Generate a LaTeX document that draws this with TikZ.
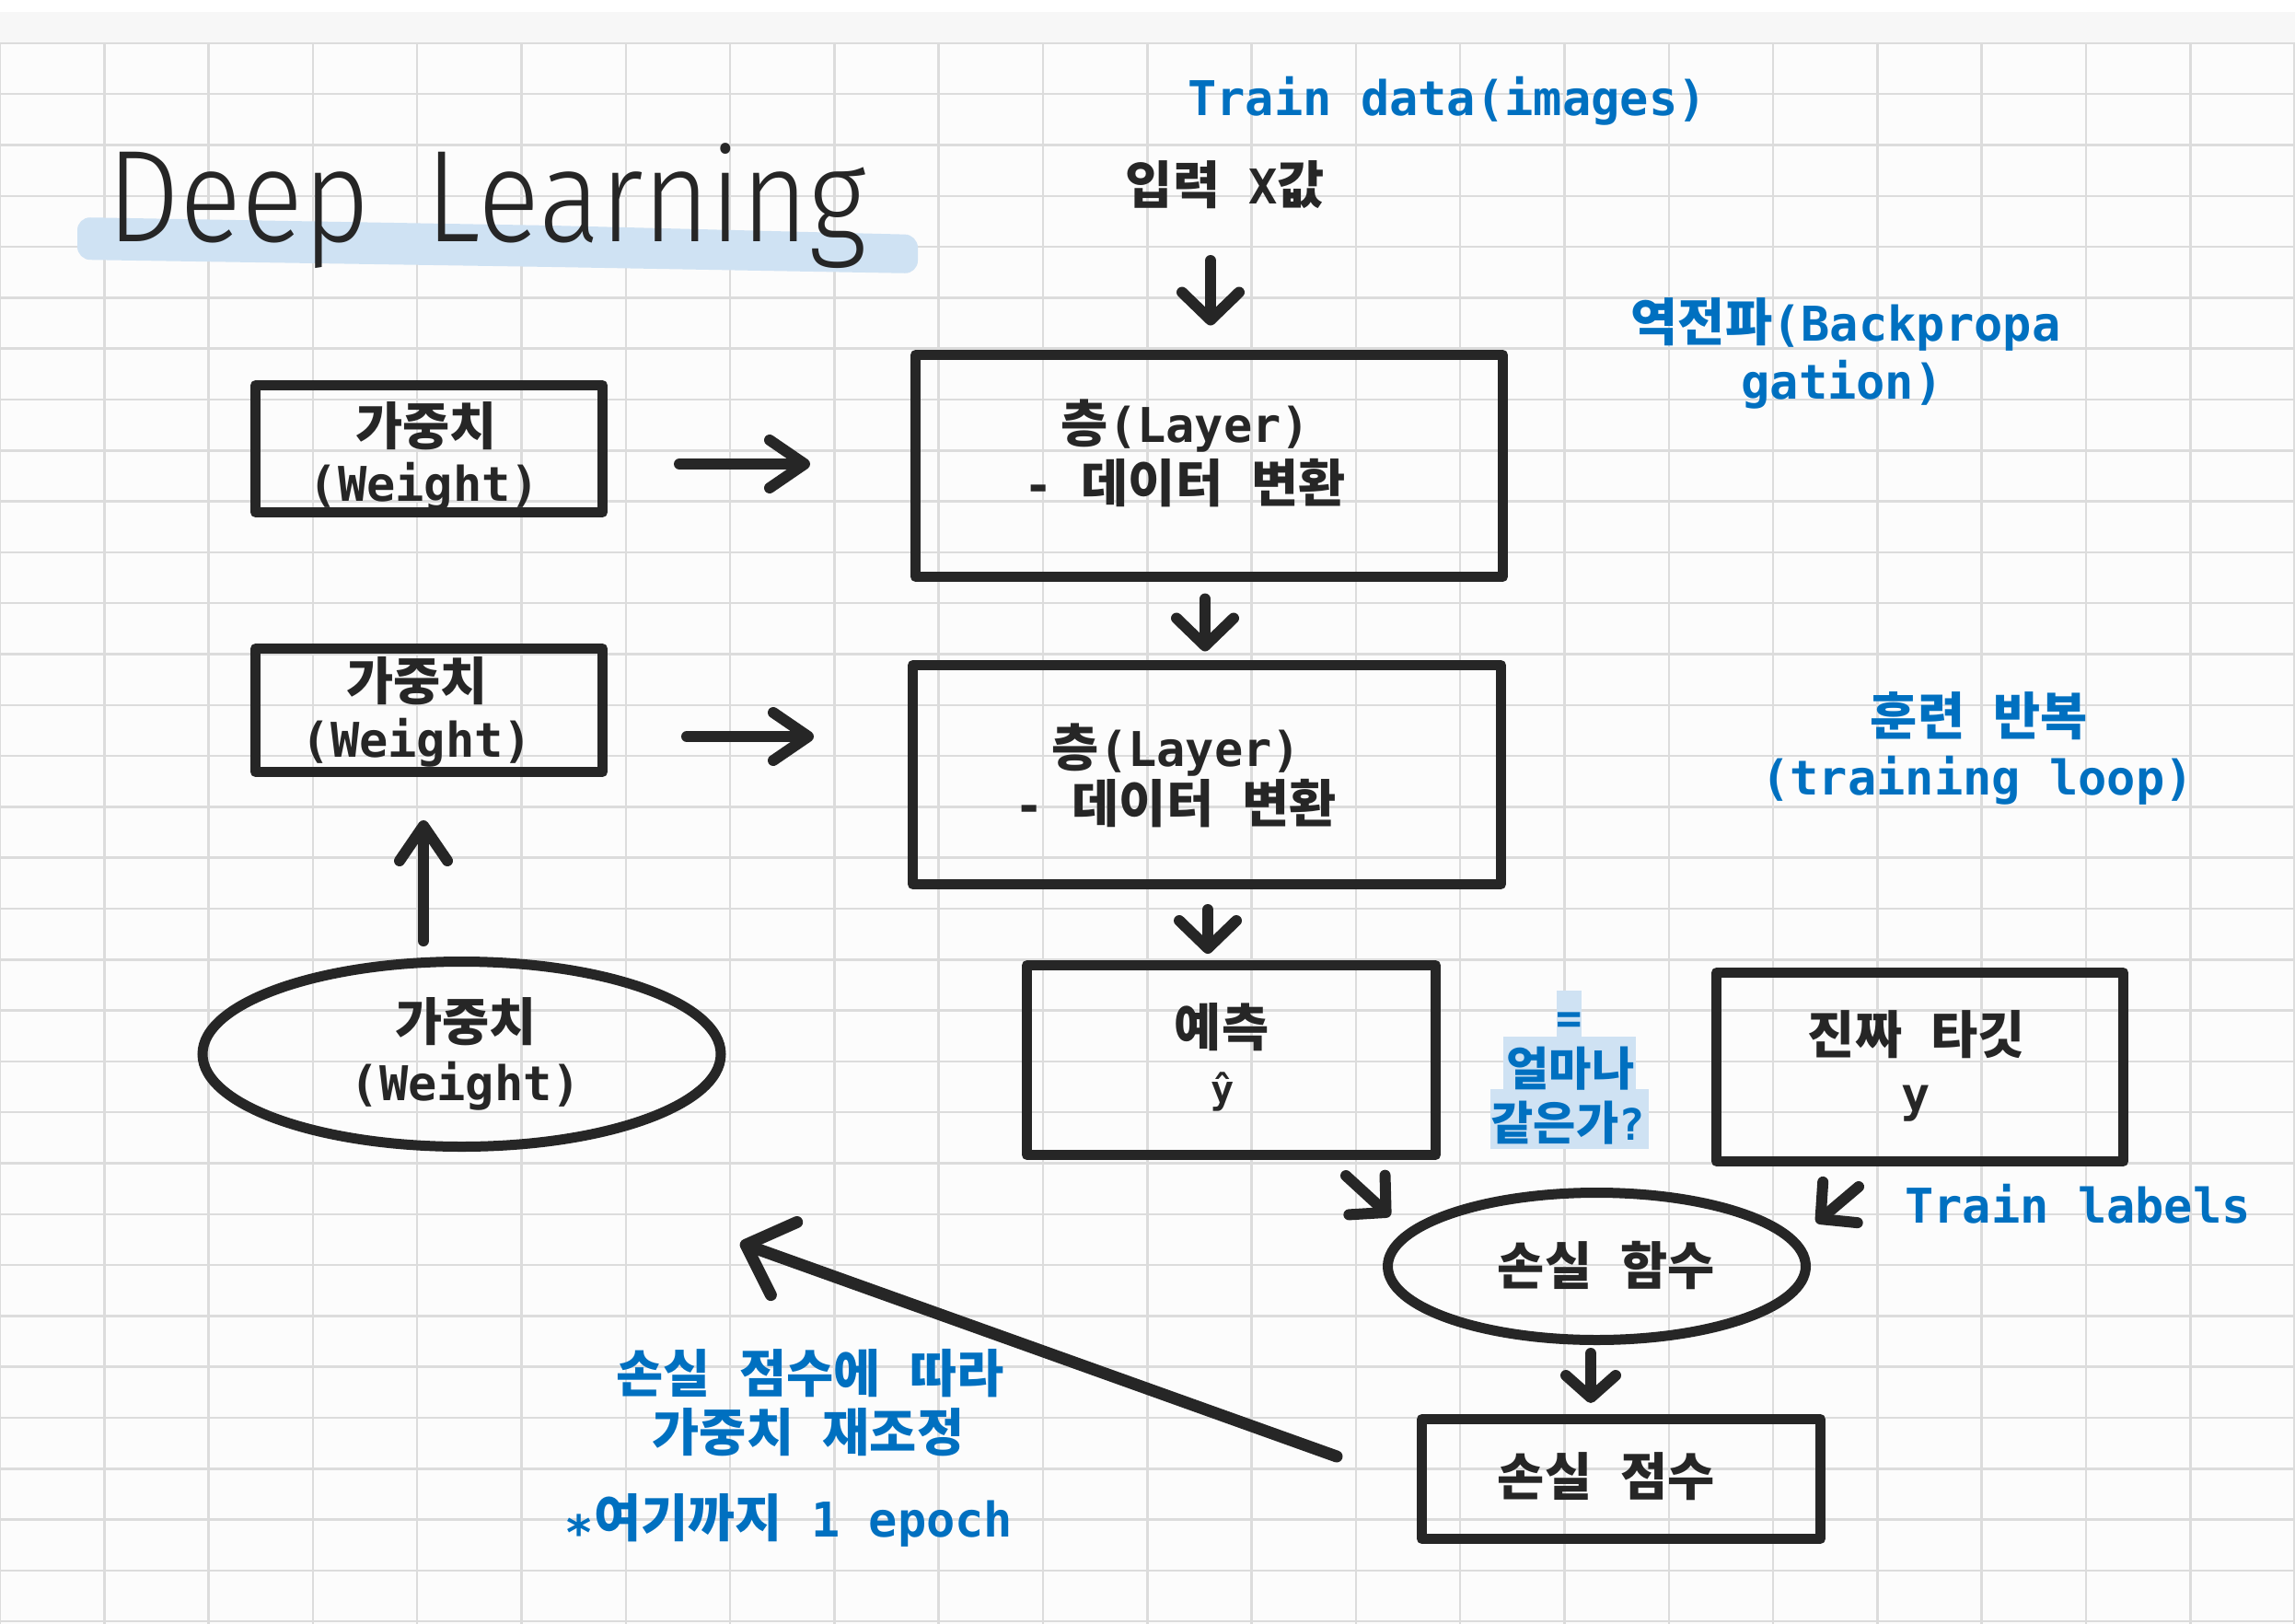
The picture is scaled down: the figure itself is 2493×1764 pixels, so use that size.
\documentclass[tikz,border=0pt]{standalone}
\usepackage{fontspec}
\setmonofont{DejaVu Sans Mono}
\newfontfamily\cjk{Noto Sans CJK KR}[Scale=1.07]
\newfontfamily\handfont{Fira Sans}[UprightFont=* Light]
\usetikzlibrary{arrows.meta,shapes.geometric}
\newcommand\ko[1]{{\cjk\bfseries #1}}
\definecolor{ink}{HTML}{262626}
\definecolor{blu}{HTML}{0070C0}
\definecolor{hl}{HTML}{CFE2F3}
\definecolor{gridc}{HTML}{DCDCDC}
\definecolor{bgc}{HTML}{FCFCFC}
\definecolor{topc}{HTML}{F7F7F7}
\tikzset{
  lbl/.style={inner sep=0pt, anchor=base, font=\fontsize{52}{62}\selectfont\ttfamily\bfseries, text=ink},
  blbl/.style={lbl, text=blu},
  qlbl/.style={lbl, text=blu, font=\fontsize{47}{56}\selectfont\ttfamily\bfseries},
  boxs/.style={draw=ink, line width=11pt, line join=round, rectangle, inner sep=0pt, outer sep=0pt},
  ells/.style={draw=ink, line width=11pt, ellipse, inner sep=0pt, outer sep=0pt},
  arrbase/.style={draw=ink, line width=12pt, line cap=round},
  arrv/.style={arrbase, -{Straight Barb[length=30pt,width=62pt,round]}},
  arrh/.style={arrbase, -{Straight Barb[length=38pt,width=52pt,round]}},
  arrd/.style={arrbase, -{Straight Barb[length=28pt,width=58pt,round]}},
  arrs/.style={arrbase, -{Straight Barb[length=24pt,width=54pt,round]}},
  arrl/.style={arrbase, line width=13pt, -{Straight Barb[length=44pt,width=84pt,round]}},
}
\begin{document}
\begin{tikzpicture}[x=1pt,y=-1pt]
\useasboundingbox (0,0) rectangle (2493,1764);
% background and grid
\fill[white] (0,0) rectangle (2493,1764);
\fill[topc] (0,13) rectangle (2493,47);
\fill[bgc] (0,47) rectangle (2493,1764);
\foreach \k in {0,...,31}
  \draw[gridc, line width=2.5pt] (0,{46.9+55.3*\k}) -- (2493,{46.9+55.3*\k});
\foreach \k in {0,...,22}
  \draw[gridc, line width=2.5pt] ({113.3*\k},47) -- ({113.3*\k},1764);

% title
\fill[hl, rounded corners=14pt] (84,236) -- (600,245) -- (997,255) -- (997,297) -- (600,290) -- (84,282) -- cycle;
\node[anchor=base west, inner sep=0pt, font=\handfont\fontsize{142}{150}\selectfont, text=ink, xscale=0.88] (title) at (116,262) {Deep \hspace{30pt}Learning};

% shapes
\node[boxs, minimum width=377pt, minimum height=138pt] (w1) at (466,487.5) {};
\node[boxs, minimum width=377pt, minimum height=134pt] (w2) at (466,771.5) {};
\node[boxs, minimum width=638pt, minimum height=241pt] (L1) at (1313.5,506) {};
\node[boxs, minimum width=639pt, minimum height=238pt] (L2) at (1311,841.5) {};
\node[boxs, minimum width=444pt, minimum height=206pt] (P) at (1337.5,1151.5) {};
\node[boxs, minimum width=442pt, minimum height=205pt] (T) at (2085.5,1159) {};
\node[ells, minimum width=454pt, minimum height=160pt] (LF) at (1734.5,1375.5) {};
\node[boxs, minimum width=433pt, minimum height=130pt] (LS) at (1761,1606.5) {};
\node[ells, minimum width=563pt, minimum height=201pt] (WE) at (501.5,1145) {};

% texts
\node[blbl] (trd) at (1572,125) {Train data(images)};
\node[lbl] (inp) at (1331,221) {\ko{입력} X\ko{값}};
\node[lbl] (w1a) at (463,483) {\ko{가중치}};
\node[lbl] (w1b) at (461,544) {(Weight)};
\node[lbl] (w2a) at (453,760) {\ko{가중치}};
\node[lbl] (w2b) at (453,822) {(Weight)};
\node[lbl] (L1a) at (1288,480) {\ko{층}(Layer)};
\node[lbl] (L1b) at (1287,545) {- \ko{데이터} \ko{변환}};
\node[lbl] (L2a) at (1278,832) {\ko{층}(Layer)};
\node[lbl] (L2b) at (1277,893) {- \ko{데이터} \ko{변환}};
\node[lbl] (Pa) at (1327,1136) {\ko{예측}};
\node[lbl, font=\fontsize{42}{50}\selectfont\ttfamily\bfseries] (Pb) at (1328,1198) {ŷ};
\node[lbl] (Ta) at (2082,1144) {\ko{진짜} \ko{타깃}};
\node[lbl] (Tb) at (2081,1207) {y};
\node[lbl] (LFa) at (1745,1395) {\ko{손실} \ko{함수}};
\node[lbl] (LSa) at (1745,1624) {\ko{손실} \ko{점수}};
\node[lbl] (WEa) at (506,1130) {\ko{가중치}};
\node[lbl] (WEb) at (506,1195) {(Weight)};
\node[blbl] (bp1) at (2005,370) {\ko{역전파}(Backpropa};
\node[blbl] (bp2) at (2001,433) {gation)};
\node[blbl] (tl1) at (2150,798) {\ko{훈련} \ko{반복}};
\node[blbl] (tl2) at (2148,863) {(training loop)};
\node[blbl] (tlab) at (2257,1328) {Train labels};
\node[blbl] (adj1) at (880,1512) {\ko{손실} \ko{점수에} \ko{따라}};
\node[blbl] (adj2) at (878,1576) {\ko{가중치} \ko{재조정}};
\node[blbl] (ep) at (857,1669) {\raisebox{-14pt}{*}\ko{여기까지} 1 epoch};

% highlighted question
\fill[hl] (1691,1076) rectangle (1718,1126);
\fill[hl] (1633,1126) rectangle (1777,1183);
\fill[hl] (1619,1183) rectangle (1791,1248);
\node[qlbl] (q0) at (1705,1122) {=};
\node[qlbl] (q1) at (1706,1179) {\ko{얼마나}};
\node[qlbl] (q2) at (1703,1238) {\ko{같은가}?};

% arrows
\draw[arrv] ([xshift=-16pt,yshift=-62pt]inp.base) -- ([xshift=1.5pt,yshift=32pt]L1.north);
\draw[arrv] ([xshift=-4.5pt,yshift=-24pt]L1.south) -- ([xshift=-2pt,yshift=15pt]L2.north);
\draw[arrv] ([xshift=1pt,yshift=-27.5pt]L2.south) -- ([xshift=-25.5pt,yshift=12.5pt]P.north);
\draw[arrh] ([xshift=83.5pt,yshift=-16.5pt]w1.east) -- ([xshift=-114.5pt,yshift=2pt]L1.west);
\draw[arrh] ([xshift=91.5pt,yshift=-28.5pt]w2.east) -- ([xshift=-107.5pt,yshift=41.5pt]L2.west);
\draw[arrh] ([xshift=-41.5pt,yshift=22.5pt]WE.north) -- ([xshift=-6pt,yshift=-52.5pt]w2.south);
\draw[arrd] ([xshift=124.5pt,yshift=-22.5pt]P.south) -- ([xshift=2.5pt,yshift=54.5pt]LF.west);
\draw[arrd] ([xshift=-66.5pt,yshift=-27.5pt]T.south) -- ([xshift=11.5pt,yshift=47.5pt]LF.east);
\draw[arrs] ([xshift=-6.5pt,yshift=-14.5pt]LF.south) -- ([xshift=-33pt,yshift=17.5pt]LS.north);
\draw[arrl] ([xshift=-92.5pt,yshift=24.5pt]LS.west) -- ([xshift=21pt,yshift=-205pt]WE.east);
\end{tikzpicture}
\end{document}
